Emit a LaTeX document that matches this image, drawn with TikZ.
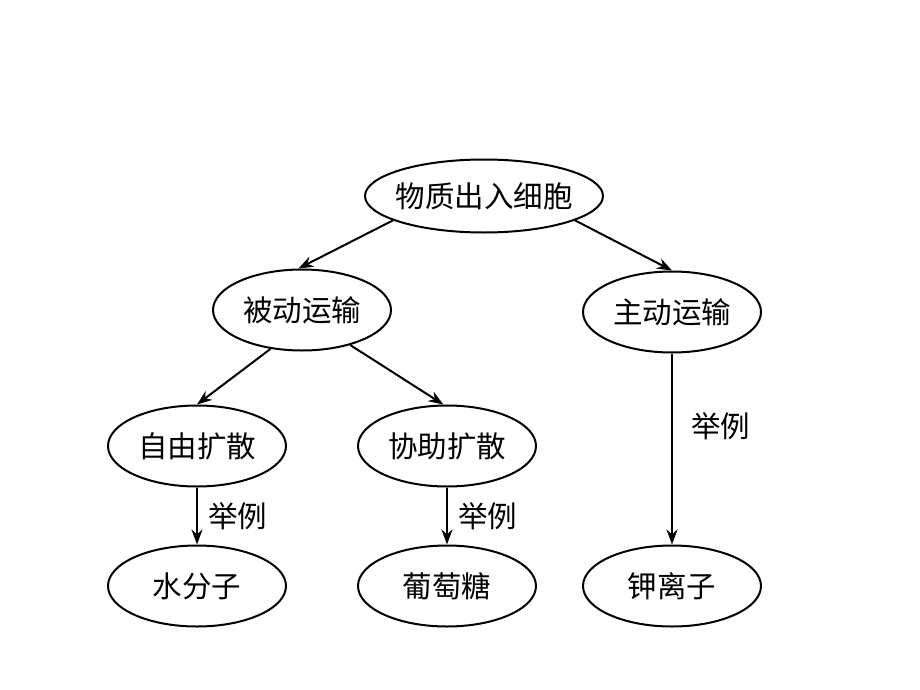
\documentclass[tikz,border=0pt]{standalone}
\usepackage{fontspec}
\newfontfamily\cjk{Noto Sans CJK SC}
\usetikzlibrary{shapes.geometric, arrows.meta, positioning}

\begin{document}
\begin{tikzpicture}[
        x=1pt, y=-1pt, on grid,
        oval/.style={ellipse, draw=black, line width=2pt, minimum width=178pt, minimum height=81pt, inner sep=0pt, font=\cjk\fontsize{29.5}{31}\selectfont},
        rootoval/.style={oval, minimum width=238pt, minimum height=73pt, inner xsep=-8pt},
        link/.style={-{Stealth[length=15pt,width=11pt]}, line width=2pt},
        example/.style={inner sep=0pt, font=\cjk\fontsize{29.5}{31}\selectfont}
    ]
        \useasboundingbox (0,0) rectangle (920,690);
        \node[rootoval] (root) at (484,196) {物质出入细胞};
        \node[oval, below left=114pt and 182pt of root] (passive) {被动运输};
        \node[oval, below right=116pt and 188pt of root] (active) {主动运输};
        \node[oval, below left=136pt and 105pt of passive] (free) {自由扩散};
        \node[oval, below right=136pt and 145pt of passive] (assist) {协助扩散};
        \node[oval, below=140pt of free] (water) {水分子};
        \node[oval, below=140pt of assist] (sugar) {葡萄糖};
        \node[oval, below=274pt of active] (potassium) {钾离子};

        \draw[link] (root.195) -- (passive.95);
        \draw[link] (root.345) -- (active.north);
        \draw[link] (passive.231) -- (free.north);
        \draw[link] (passive.324) -- (assist.95);
        \draw[link] (free) -- node[example, right=10pt] {举例} (water);
        \draw[link] (assist) -- node[example, right=10pt] {举例} (sugar);
        \draw[link] (active) -- node[example, pos=0.38, right=18pt] {举例} (potassium);
    \end{tikzpicture}
\end{document}
